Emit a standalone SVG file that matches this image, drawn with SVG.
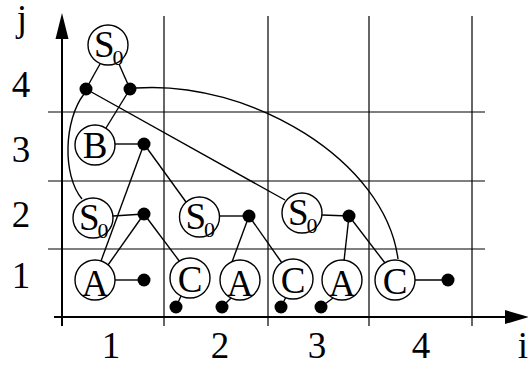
<svg xmlns="http://www.w3.org/2000/svg" width="528" height="365" viewBox="0 0 528 365">
<style>
.grid{stroke:#000;stroke-width:1.2;fill:none}
.axis{stroke:#000;stroke-width:2;fill:none}
.edge{stroke:#000;stroke-width:1.4;fill:none}
.node circle{fill:#fff;stroke:#000;stroke-width:1.4}
.dot{fill:#000}
text{font-family:"Liberation Serif","Times New Roman",serif;fill:#000}
.lab{font-size:37px;text-anchor:middle}
.nl{font-size:37px}
.sub{font-size:22px}
</style>
<rect width="528" height="365" fill="#fff"/>
<g id="grid">
<line class="grid" x1="164" y1="16" x2="164" y2="326"/>
<line class="grid" x1="268" y1="16" x2="268" y2="326"/>
<line class="grid" x1="369" y1="16" x2="369" y2="326"/>
<line class="grid" x1="472" y1="16" x2="472" y2="326"/>
<line class="grid" x1="48" y1="112" x2="485" y2="112"/>
<line class="grid" x1="48" y1="181" x2="485" y2="181"/>
<line class="grid" x1="48" y1="249" x2="485" y2="249"/>
</g>
<g id="axes">
<line class="axis" x1="62" y1="326" x2="62" y2="36"/>
<polygon points="62,13 55.5,39 68.5,39" fill="#000"/>
<line class="axis" x1="54" y1="317" x2="507" y2="317"/>
<polygon points="529,317 505,310 505,324" fill="#000"/>
</g>
<g id="labels">
<text class="lab" x="22" y="31">j</text>
<text class="lab" x="21" y="97">4</text>
<text class="lab" x="21" y="162">3</text>
<text class="lab" x="21" y="227">2</text>
<text class="lab" x="21" y="288">1</text>
<text class="lab" x="111" y="358">1</text>
<text class="lab" x="220" y="358">2</text>
<text class="lab" x="317" y="358">3</text>
<text class="lab" x="421" y="358">4</text>
<text class="lab" x="523" y="358">i</text>
</g>
<g id="connectors">
<path class="edge" d="M84 94 C64 120 62 175 82 199"/>
<path class="edge" d="M136 88 C250 80 385 160 398 259"/>
<line class="edge" x1="100" y1="64" x2="86" y2="89"/>
<line class="edge" x1="119" y1="64" x2="130" y2="89"/>
<line class="edge" x1="86" y1="89" x2="285" y2="200"/>
<line class="edge" x1="130" y1="89" x2="106" y2="128"/>
<line class="edge" x1="115" y1="144" x2="144" y2="144"/>
<line class="edge" x1="144" y1="144" x2="101" y2="261"/>
<line class="edge" x1="144" y1="144" x2="186" y2="202"/>
<line class="edge" x1="113" y1="216" x2="144" y2="214"/>
<line class="edge" x1="144" y1="214" x2="108" y2="265"/>
<line class="edge" x1="144" y1="214" x2="180" y2="262"/>
<line class="edge" x1="115" y1="280" x2="144" y2="280"/>
<line class="edge" x1="219" y1="216" x2="249" y2="216"/>
<line class="edge" x1="249" y1="216" x2="232" y2="262"/>
<line class="edge" x1="249" y1="216" x2="282" y2="263"/>
<line class="edge" x1="181" y1="296" x2="176" y2="307"/>
<line class="edge" x1="231" y1="298" x2="222" y2="307"/>
<line class="edge" x1="322" y1="215" x2="349" y2="216"/>
<line class="edge" x1="349" y1="216" x2="344" y2="261"/>
<line class="edge" x1="349" y1="216" x2="385" y2="263"/>
<line class="edge" x1="286" y1="297" x2="281" y2="307"/>
<line class="edge" x1="333" y1="298" x2="321" y2="307"/>
<line class="edge" x1="415" y1="280" x2="448" y2="280"/>
</g>
<g id="dots">
<circle class="dot" cx="86" cy="89" r="6.5"/>
<circle class="dot" cx="130" cy="89" r="6.5"/>
<circle class="dot" cx="144" cy="144" r="6.5"/>
<circle class="dot" cx="144" cy="214" r="6.5"/>
<circle class="dot" cx="144" cy="280" r="6.5"/>
<circle class="dot" cx="249" cy="216" r="6.5"/>
<circle class="dot" cx="349" cy="216" r="6.5"/>
<circle class="dot" cx="448" cy="280" r="6.5"/>
<circle class="dot" cx="176" cy="307" r="6.5"/>
<circle class="dot" cx="222" cy="307" r="6.5"/>
<circle class="dot" cx="281" cy="307" r="6.5"/>
<circle class="dot" cx="321" cy="307" r="6.5"/>
</g>
<g id="s0_top" class="node"><circle cx="108" cy="45" r="20"/><text class="nl" x="94" y="57">S<tspan class="sub" dx="-2" dy="8">0</tspan></text></g>
<g id="b" class="node"><circle cx="95" cy="145" r="20"/><text class="lab" x="95" y="158">B</text></g>
<g id="s0_1" class="node"><circle cx="93" cy="218" r="20"/><text class="nl" x="79" y="230">S<tspan class="sub" dx="-2" dy="8">0</tspan></text></g>
<g id="s0_2" class="node"><circle cx="199.5" cy="217" r="20"/><text class="nl" x="185.5" y="229">S<tspan class="sub" dx="-2" dy="8">0</tspan></text></g>
<g id="s0_3" class="node"><circle cx="302" cy="213" r="20"/><text class="nl" x="288" y="225">S<tspan class="sub" dx="-2" dy="8">0</tspan></text></g>
<g id="a1" class="node"><circle cx="95" cy="280" r="20"/><text class="lab" x="95" y="296">A</text></g>
<g id="c2" class="node"><circle cx="190" cy="278" r="20"/><text class="lab" x="190" y="292">C</text></g>
<g id="a2" class="node"><circle cx="240" cy="280" r="20"/><text class="lab" x="240" y="296">A</text></g>
<g id="c3" class="node"><circle cx="293" cy="279" r="20"/><text class="lab" x="293" y="293">C</text></g>
<g id="a3" class="node"><circle cx="342" cy="280" r="20"/><text class="lab" x="342" y="296">A</text></g>
<g id="c4" class="node"><circle cx="395" cy="280" r="20"/><text class="lab" x="395" y="294">C</text></g>
</svg>
